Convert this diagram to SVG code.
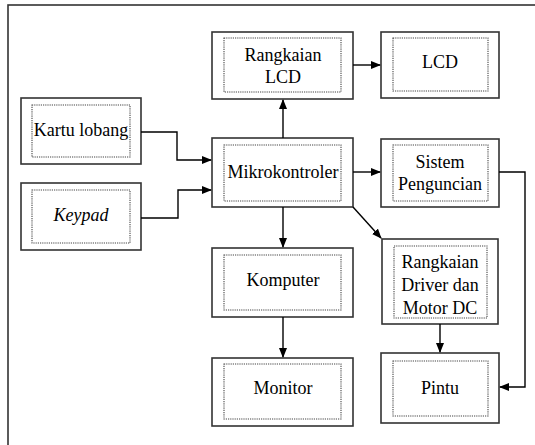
<svg xmlns="http://www.w3.org/2000/svg" width="535" height="445" viewBox="0 0 535 445">
<defs>
<marker id="arr" markerWidth="10" markerHeight="8" refX="9" refY="4" orient="auto" markerUnits="userSpaceOnUse"><path d="M0,0 L10,4 L0,8 Z" fill="#000"/></marker>
<style>.box{fill:#fff;stroke:#333;stroke-width:1.6}
.inner{fill:none;stroke:#444;stroke-width:1.1;stroke-dasharray:1.2,1}
.c{fill:none;stroke:#000;stroke-width:1.4}</style>
</defs>
<rect x="8" y="5" width="540" height="450" fill="#fff" stroke="#333" stroke-width="1.6"/>
<g id="rangkaian-lcd"><rect class="box" x="212" y="32" width="141" height="67"/><rect class="inner" x="224" y="38" width="117" height="54"/><text x="283" y="61" font-family="Liberation Serif" font-size="18" text-anchor="middle">Rangkaian</text><text x="283" y="83" font-family="Liberation Serif" font-size="18" text-anchor="middle">LCD</text></g>
<g id="lcd"><rect class="box" x="381" y="32" width="118" height="66"/><rect class="inner" x="393" y="38" width="95" height="53"/><text x="440" y="68" font-family="Liberation Serif" font-size="18" text-anchor="middle">LCD</text></g>
<g id="kartu-lobang"><rect class="box" x="21" y="98" width="120" height="66"/><rect class="inner" x="32" y="105" width="98" height="52"/><text x="81" y="136" font-family="Liberation Serif" font-size="18" text-anchor="middle">Kartu lobang</text></g>
<g id="keypad"><rect class="box" x="21" y="183" width="120" height="67"/><rect class="inner" x="32" y="190" width="98" height="53"/><text x="81" y="221" font-family="Liberation Serif" font-size="18" text-anchor="middle" font-style="italic">Keypad</text></g>
<g id="mikrokontroler"><rect class="box" x="212" y="138" width="141" height="69"/><rect class="inner" x="224" y="145" width="117" height="56"/><text x="283" y="178" font-family="Liberation Serif" font-size="18" text-anchor="middle">Mikrokontroler</text></g>
<g id="sistem-penguncian"><rect class="box" x="381" y="139" width="118" height="68"/><rect class="inner" x="393" y="145" width="95" height="56"/><text x="440" y="168" font-family="Liberation Serif" font-size="18" text-anchor="middle">Sistem</text><text x="440" y="190" font-family="Liberation Serif" font-size="18" text-anchor="middle">Penguncian</text></g>
<g id="komputer"><rect class="box" x="212" y="248" width="141" height="69"/><rect class="inner" x="224" y="255" width="117" height="55"/><text x="283" y="286" font-family="Liberation Serif" font-size="18" text-anchor="middle">Komputer</text></g>
<g id="monitor"><rect class="box" x="212" y="358" width="141" height="68"/><rect class="inner" x="224" y="364" width="117" height="55"/><text x="283" y="394" font-family="Liberation Serif" font-size="18" text-anchor="middle">Monitor</text></g>
<g id="driver"><rect class="box" x="382" y="239" width="116" height="85"/><rect class="inner" x="394" y="246" width="93" height="72"/><text x="440" y="268" font-family="Liberation Serif" font-size="18" text-anchor="middle">Rangkaian</text><text x="440" y="291" font-family="Liberation Serif" font-size="18" text-anchor="middle">Driver dan</text><text x="440" y="314" font-family="Liberation Serif" font-size="18" text-anchor="middle">Motor DC</text></g>
<g id="pintu"><rect class="box" x="381" y="353" width="118" height="70"/><rect class="inner" x="393" y="361" width="95" height="55"/><text x="440" y="394" font-family="Liberation Serif" font-size="18" text-anchor="middle">Pintu</text></g>
<g id="connectors">
<path class="c" d="M141,132 H177 V160 H211" marker-end="url(#arr)"/>
<path class="c" d="M141,218 H178 V190 H211" marker-end="url(#arr)"/>
<path class="c" d="M283,138 V100" marker-end="url(#arr)"/>
<path class="c" d="M353,65 H380" marker-end="url(#arr)"/>
<path class="c" d="M353,172 H380" marker-end="url(#arr)"/>
<path class="c" d="M283,207 V247" marker-end="url(#arr)"/>
<path class="c" d="M353,207 L381,238" marker-end="url(#arr)"/>
<path class="c" d="M283,317 V357" marker-end="url(#arr)"/>
<path class="c" d="M440,324 V352" marker-end="url(#arr)"/>
<path class="c" d="M499,172 H525 V387 H500" marker-end="url(#arr)"/>
</g>
</svg>
